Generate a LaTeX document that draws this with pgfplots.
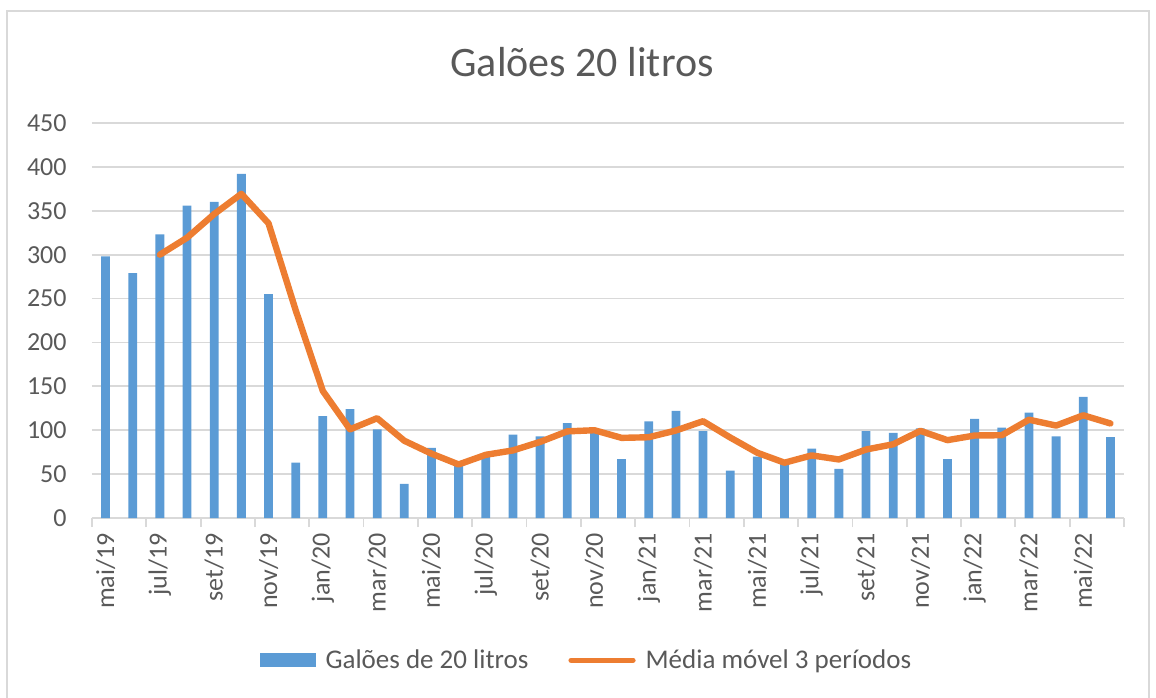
\documentclass[border=0pt]{standalone}
\usepackage{fontspec}
\setmainfont{Carlito}
\usepackage{pgfplots}
\pgfplotsset{compat=1.18}
\definecolor{barblue}{HTML}{5B9BD5}
\definecolor{lineorange}{HTML}{ED7D31}
\definecolor{gridgray}{HTML}{D9D9D9}
\definecolor{txtgray}{HTML}{595959}
\begin{document}
\begin{tikzpicture}
\path[use as bounding box] (0pt,0pt) rectangle (578pt,348.5pt);
\draw[gridgray, line width=1pt] (3.5pt,-3pt) -- (3.5pt,343pt) -- (574.5pt,343pt) -- (574.5pt,-3pt);
\node[text=txtgray, font=\fontsize{21}{25}\selectfont] at (291pt,317.5pt) {Galões 20 litros};
\begin{axis}[
  at={(46pt,89.5pt)}, anchor=south west,
  scale only axis, width=516pt, height=197.5pt,
  xmin=-0.5, xmax=37.5, ymin=0, ymax=450,
  ytick={0,50,...,450},
  ymajorgrids, grid style={gridgray, line width=0.9pt},
  axis x line*=bottom, axis y line*=left,
  x axis line style={gridgray, line width=0.9pt, -},
  y axis line style={draw=none},
  xtick={0,2,...,36},
  xticklabels={mai/19,jul/19,set/19,nov/19,jan/20,mar/20,mai/20,jul/20,set/20,nov/20,jan/21,mar/21,mai/21,jul/21,set/21,nov/21,jan/22,mar/22,mai/22},
  major tick length=0pt,
  minor xtick={-0.5,1.5,...,37.5},
  minor tick length=4.5pt, tick align=outside,
  minor tick style={gridgray, line width=0.9pt},
  tick label style={font=\fontsize{13}{15}\selectfont, text=txtgray},
  /pgf/number format/assume math mode=true,
  xticklabel style={yshift=-7.5pt, rotate=90, anchor=east, inner sep=0pt},
  yticklabel style={inner sep=0pt, xshift=-12.5pt},
  legend style={at={(0.48,-0.36)}, anchor=center, draw=none, fill=none,
    legend columns=2, font=\fontsize{13.5}{16}\selectfont, text=txtgray,
    /tikz/every odd column/.append style={column sep=3pt},
    /tikz/every even column/.append style={column sep=18pt},
    nodes={inner sep=2pt}},
  legend cell align=left,
]
\addplot[ybar, bar width=4.4pt, fill=barblue, draw=none,
  legend image code/.code={\fill[barblue] (0pt,-3.6pt) rectangle (28pt,3.6pt);}]
coordinates {
(0,298) (1,279) (2,323) (3,356) (4,360) (5,392) (6,255) (7,63) (8,116) (9,124)
(10,101) (11,39) (12,80) (13,64) (14,72) (15,95) (16,93) (17,108) (18,99) (19,67)
(20,110) (21,122) (22,99) (23,54) (24,70) (25,65) (26,79) (27,56) (28,99) (29,97)
(30,102) (31,67) (32,113) (33,103) (34,120) (35,93) (36,138) (37,92)
};
\addlegendentry{Galões de 20 litros}
\addplot[lineorange, line width=3.2pt, line join=round, line cap=round,
  legend image code/.code={\draw[lineorange, line width=2.6pt, line cap=round] (0pt,0pt) -- (31pt,0pt);}]
coordinates {
(2,300) (3,319.3) (4,346.3) (5,369.3) (6,335.7) (7,236.7) (8,144.7) (9,101)
(10,113.7) (11,88) (12,73.3) (13,61) (14,72) (15,77) (16,86.7) (17,98.7) (18,100)
(19,91.3) (20,92) (21,99.7) (22,110.3) (23,91.7) (24,74.3) (25,63) (26,71.3)
(27,66.7) (28,78) (29,84) (30,99.3) (31,88.7) (32,94) (33,94.3) (34,112)
(35,105.3) (36,117) (37,107.7)
};
\addlegendentry{Média móvel 3 períodos}
\end{axis}
\end{tikzpicture}
\end{document}
